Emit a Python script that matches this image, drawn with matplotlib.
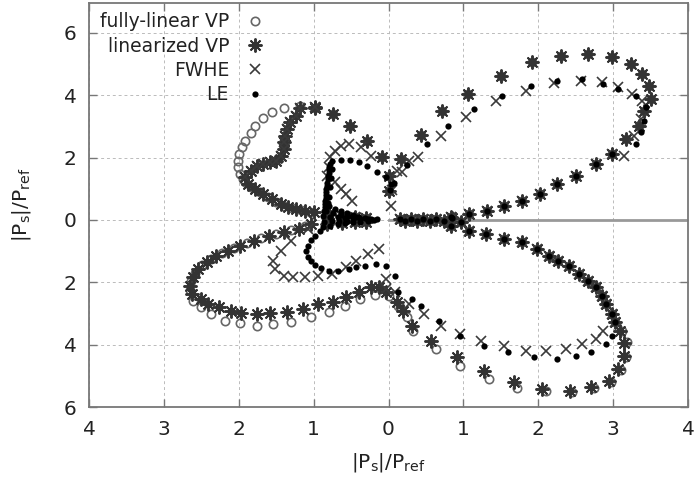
import numpy as np
import matplotlib.pyplot as plt
from matplotlib.lines import Line2D
from matplotlib.ticker import FuncFormatter

# -----------------------
# Points (x, y) in |Ps|/Pref
# -----------------------

# near theta = 0, along the axis (all series)
axis_pts = [(0.15, 0.02), (0.22, -0.02), (0.30, 0.03), (0.38, -0.03), (0.46, 0.02),
            (0.55, -0.02), (0.64, 0.04), (0.74, -0.04), (0.85, 0.05), (0.97, -0.06)]

# upper right lobe, lower arm (all series)
ur_ret = [(0.84, 0.10), (1.07, 0.19), (1.31, 0.29), (1.54, 0.45), (1.78, 0.61),
          (2.03, 0.83), (2.25, 1.15), (2.50, 1.41), (2.77, 1.79), (2.98, 2.12)]

# upper right lobe, outer loop (VP)
ur_outer = [(3.17, 2.60), (3.34, 3.01), (3.41, 3.49), (3.50, 3.88), (3.48, 4.29),
            (3.38, 4.68), (3.24, 5.00), (2.98, 5.22), (2.67, 5.32), (2.31, 5.26),
            (1.91, 5.06), (1.50, 4.62), (1.06, 4.04), (0.71, 3.49), (0.43, 2.72),
            (0.17, 1.96), (0.00, 1.41), (0.00, 0.93)]

# upper right lobe, inner loop
ur_inner_fwhe = [(3.14, 2.05), (3.28, 2.69), (3.37, 3.24), (3.38, 3.81), (3.25, 4.04),
                 (3.07, 4.26), (2.85, 4.42), (2.57, 4.46), (2.21, 4.39), (1.84, 4.13),
                 (1.44, 3.81), (1.04, 3.30), (0.70, 2.69), (0.40, 2.02), (0.18, 1.55),
                 (0.27, 1.89), (0.05, 0.95), (0.03, 0.45)]
ur_inner_le = [(3.30, 2.44), (3.37, 2.82), (3.41, 3.17), (3.44, 3.62), (3.30, 3.97),
               (3.07, 4.20), (2.87, 4.36), (2.58, 4.52), (2.25, 4.46), (1.90, 4.29),
               (1.51, 3.97), (1.14, 3.56), (0.80, 3.01), (0.51, 2.44), (0.25, 1.75),
               (0.08, 1.20)]

# top, between the two upper lobes (VP)
top_vp = [(-0.09, 2.02), (-0.29, 2.53), (-0.51, 3.01), (-0.74, 3.40), (-0.98, 3.58)]

# upper left lobe
ul_outer = [(-1.18, 3.65), (-1.40, 3.59), (-1.56, 3.46), (-1.67, 3.27), (-1.78, 3.01),
            (-1.84, 2.79), (-1.91, 2.53), (-1.95, 2.34), (-1.99, 2.12), (-2.01, 1.89),
            (-2.01, 1.70), (-1.98, 1.47), (-1.94, 1.31)]
ul_inner = [(-0.98, 3.62), (-1.18, 3.58), (-1.24, 3.33), (-1.31, 3.14), (-1.36, 2.92),
            (-1.38, 2.69), (-1.40, 2.50), (-1.40, 2.28), (-1.43, 2.05), (-1.50, 1.89),
            (-1.58, 1.86), (-1.67, 1.79), (-1.76, 1.73), (-1.84, 1.57), (-1.91, 1.38)]
ul_lower = [(-1.87, 1.15), (-1.78, 0.99), (-1.67, 0.83), (-1.56, 0.67), (-1.44, 0.51),
            (-1.34, 0.42), (-1.24, 0.35), (-1.11, 0.29), (-1.00, 0.26)]
ul_lower_full = [(-1.92, 1.22), (-1.83, 1.07), (-1.72, 0.91), (-1.61, 0.75), (-1.50, 0.59),
                 (-1.39, 0.46), (-1.29, 0.38), (-1.17, 0.32), (-1.05, 0.27)]

# centre wedge (VP, FWHE)
wedge_vp = [(-0.80, 0.19), (-0.62, 0.14), (-0.45, 0.09), (-0.30, 0.05),
            (-0.30, -0.05), (-0.45, -0.08), (-0.62, -0.11), (-0.82, -0.14)]

# lower left lobe
ll_upper = [(-1.03, -0.13), (-1.20, -0.29), (-1.40, -0.38), (-1.60, -0.51), (-1.80, -0.67),
            (-1.98, -0.83), (-2.14, -0.99), (-2.30, -1.15), (-2.43, -1.35), (-2.54, -1.57),
            (-2.61, -1.83), (-2.65, -2.12), (-2.63, -2.37)]
ll_upper_full = [(-1.11, -0.20), (-1.30, -0.33), (-1.50, -0.44), (-1.70, -0.59),
                 (-1.89, -0.75), (-2.06, -0.91), (-2.22, -1.07), (-2.37, -1.25),
                 (-2.49, -1.46), (-2.58, -1.70), (-2.64, -1.97), (-2.65, -2.25)]
ll_bottom_full = [(-2.61, -2.60), (-2.50, -2.79), (-2.37, -3.01), (-2.18, -3.24),
                  (-1.98, -3.30), (-1.76, -3.40), (-1.54, -3.33), (-1.30, -3.27),
                  (-1.04, -3.11), (-0.80, -2.95), (-0.58, -2.75), (-0.38, -2.55),
                  (-0.18, -2.40), (0.00, -2.45), (0.13, -2.75), (0.25, -3.10)]
ll_bottom_lin = [(-2.50, -2.53), (-2.41, -2.69), (-2.27, -2.79), (-2.11, -2.92),
                 (-1.97, -2.98), (-1.76, -3.01), (-1.58, -2.98), (-1.36, -2.95),
                 (-1.14, -2.85), (-0.94, -2.69), (-0.74, -2.63), (-0.57, -2.47),
                 (-0.40, -2.31), (-0.24, -2.15), (-0.13, -2.15), (-0.03, -2.31),
                 (0.11, -2.63), (0.20, -2.92)]

# lower right lobe, outer loop (VP)
lr_outer_full = [(0.33, -3.56), (0.63, -4.13), (0.96, -4.68), (1.34, -5.10), (1.71, -5.40),
                 (2.10, -5.50), (2.45, -5.52), (2.74, -5.40), (2.97, -5.20), (3.10, -4.82),
                 (3.17, -4.40), (3.18, -3.91), (3.12, -3.55)]
lr_outer_lin = [(0.31, -3.40), (0.57, -3.88), (0.91, -4.39), (1.27, -4.84), (1.67, -5.19),
                (2.05, -5.42), (2.43, -5.48), (2.71, -5.35), (2.94, -5.16), (3.07, -4.78),
                (3.14, -4.36), (3.14, -3.95), (3.09, -3.55)]

# lower right lobe, inner loop
lr_inner_fwhe = [(-0.04, -2.21), (0.09, -2.31), (0.27, -2.69), (0.47, -3.01), (0.70, -3.40),
                 (0.96, -3.65), (1.24, -3.88), (1.54, -4.04), (1.83, -4.20), (2.11, -4.20),
                 (2.37, -4.13), (2.58, -3.97), (2.77, -3.81), (2.87, -3.56)]
lr_inner_le = [(0.13, -2.30), (0.31, -2.53), (0.43, -2.76), (0.67, -3.24), (0.96, -3.72),
               (1.27, -4.04), (1.60, -4.23), (1.94, -4.39), (2.25, -4.46), (2.51, -4.36),
               (2.71, -4.23), (2.90, -3.97), (2.98, -3.72)]

# lower right lobe, upper arm (all series)
lr_ret = [(3.03, -3.27), (2.98, -3.01), (2.91, -2.69), (2.85, -2.44), (2.77, -2.15),
          (2.67, -1.96), (2.54, -1.73), (2.41, -1.47), (2.27, -1.31), (2.14, -1.15),
          (1.98, -0.93), (1.78, -0.71), (1.54, -0.61), (1.30, -0.45), (1.07, -0.35),
          (0.84, -0.19)]

# FWHE, small left loops
fwhe_top = [(0.11, 1.57), (-0.24, 2.05), (-0.37, 2.34), (-0.53, 2.44), (-0.63, 2.37),
            (-0.71, 2.21), (-0.78, 2.02), (-0.80, 1.70), (-0.82, 1.40),
            (-0.71, 1.22), (-0.64, 0.99), (-0.57, 0.83), (-0.49, 0.61)]
fwhe_ll = [(-1.07, -0.29), (-1.30, -0.67), (-1.44, -0.99), (-1.54, -1.31), (-1.51, -1.57),
           (-1.40, -1.79), (-1.27, -1.83), (-1.11, -1.83), (-0.94, -1.79), (-0.76, -1.73),
           (-0.57, -1.51), (-0.43, -1.31), (-0.27, -1.09), (-0.13, -0.93), (-0.03, -1.90)]

# LE, small lobes around the centre
le_arc = [(-0.76, 1.89), (-0.63, 1.92), (-0.51, 1.92), (-0.40, 1.86), (-0.29, 1.73),
          (-0.16, 1.54), (-0.03, 1.38), (0.03, 1.15), (0.02, 0.95)]
le_stripe = [(-0.78, 1.80), (-0.79, 1.70), (-0.80, 1.60), (-0.80, 1.50), (-0.81, 1.40),
             (-0.81, 1.30), (-0.82, 1.20), (-0.82, 1.10), (-0.83, 1.00), (-0.83, 0.90),
             (-0.84, 0.80), (-0.84, 0.70), (-0.85, 0.60), (-0.85, 0.50), (-0.85, 0.40),
             (-0.86, 0.30), (-0.76, 1.65), (-0.77, 1.35), (-0.78, 1.05), (-0.80, 0.75),
             (-0.81, 0.55)]
le_wedge = [(-0.80, 0.45), (-0.72, 0.36), (-0.64, 0.28), (-0.56, 0.21), (-0.48, 0.16),
            (-0.40, 0.11), (-0.32, 0.07), (-0.24, 0.04), (-0.16, 0.02),
            (-0.88, 0.12), (-0.78, 0.10), (-0.68, 0.08), (-0.58, 0.06), (-0.48, 0.04),
            (-0.38, 0.03), (-0.28, 0.02), (-0.20, 0.01),
            (-0.88, -0.22), (-0.78, -0.18), (-0.68, -0.14), (-0.58, -0.11), (-0.48, -0.08),
            (-0.38, -0.05), (-0.28, -0.03),
            (-0.84, 0.28), (-0.74, 0.22), (-0.64, 0.17), (-0.54, 0.12), (-0.44, 0.08),
            (-0.86, -0.05), (-0.76, -0.04), (-0.66, -0.03), (-0.56, -0.02)]
le_lower = [(-0.92, -0.36), (-0.98, -0.50), (-1.03, -0.65), (-1.08, -0.83), (-1.10, -1.00),
            (-1.08, -1.18), (-1.04, -1.31), (-0.98, -1.43), (-0.90, -1.55), (-0.80, -1.63),
            (-0.67, -1.63), (-0.53, -1.57), (-0.43, -1.51), (-0.31, -1.47), (-0.17, -1.41),
            (-0.03, -1.47), (0.09, -1.80)]

full_vp = np.array(axis_pts + ur_ret + ur_outer + top_vp + ul_outer + ul_lower_full
                   + wedge_vp + ll_upper_full + ll_bottom_full + lr_outer_full + lr_ret)
lin_vp = np.array(axis_pts + ur_ret + ur_outer + top_vp + ul_inner + ul_lower + wedge_vp
                  + ll_upper + ll_bottom_lin + lr_outer_lin + lr_ret)
fwhe = np.array(axis_pts + ur_ret + ur_inner_fwhe + fwhe_top + ul_inner + wedge_vp
                + fwhe_ll + lr_inner_fwhe + lr_ret)
le = np.array(axis_pts + ur_ret + ur_inner_le + le_arc + le_stripe + le_wedge
              + le_lower + lr_inner_le + lr_ret)

# -----------------------
# Plot
# -----------------------

fig = plt.figure(figsize=(6.96, 4.86), dpi=100)
ax = fig.add_axes([89 / 696, 79 / 486, 599 / 696, 404 / 486])

ax.set_xlim(-4, 4)
ax.set_ylim(-6, 6.96)

ax.grid(True, color="#bbbbbb", lw=0.7, ls=(0, (3, 3)))
ax.set_axisbelow(True)
ax.plot([0, 4], [0, 0], color="#999999", lw=2, zorder=1.5)

styles = {
    "full": dict(marker="o", ms=6, mfc="none", mec="#666666", mew=1.2, ls="none"),
    "lin": dict(marker=(8, 2, 0), ms=10, color="#333333", mew=1.4, ls="none"),
    "fwhe": dict(marker="x", ms=7, color="#3a3a3a", mew=1.2, ls="none"),
    "le": dict(marker="o", ms=4.5, color="black", mew=0, ls="none"),
}

ax.plot(full_vp[:, 0], full_vp[:, 1], **styles["full"])
ax.plot(lin_vp[:, 0], lin_vp[:, 1], **styles["lin"])
ax.plot(fwhe[:, 0], fwhe[:, 1], **styles["fwhe"])
ax.plot(le[:, 0], le[:, 1], **styles["le"])

ax.set_xticks(range(-4, 5))
ax.set_yticks(range(-6, 7, 2))
absfmt = FuncFormatter(lambda v, p: f"{abs(v):g}")
ax.xaxis.set_major_formatter(absfmt)
ax.yaxis.set_major_formatter(absfmt)

ax.tick_params(direction="in", length=6, width=1, color="#777777", top=True, right=True,
               labelsize=14.5, labelcolor="#222222")
ax.tick_params(axis="x", pad=9)
ax.tick_params(axis="y", pad=9)

for s in ax.spines.values():
    s.set_color("#777777")
    s.set_linewidth(1.3)

ax.set_xlabel(r"$\mathrm{|P_s|/P_{ref}}$", fontsize=14.5, color="#222222", labelpad=9)
ax.set_ylabel(r"$\mathrm{|P_s|/P_{ref}}$", fontsize=14.5, color="#222222", labelpad=22)

handles = [Line2D([], [], **styles["full"]),
           Line2D([], [], **styles["lin"]),
           Line2D([], [], **styles["fwhe"]),
           Line2D([], [], **styles["le"])]
labels = ["fully-linear VP", "linearized VP", "FWHE", "LE"]

fig.legend(handles, labels, loc="upper right", bbox_to_anchor=(274 / 696, 483 / 486),
           frameon=False, markerfirst=False, fontsize=13.5, handlelength=1.0,
           handletextpad=0.9, borderpad=0, labelspacing=0.28, labelcolor="#222222")

plt.savefig("out.png", dpi=100)
